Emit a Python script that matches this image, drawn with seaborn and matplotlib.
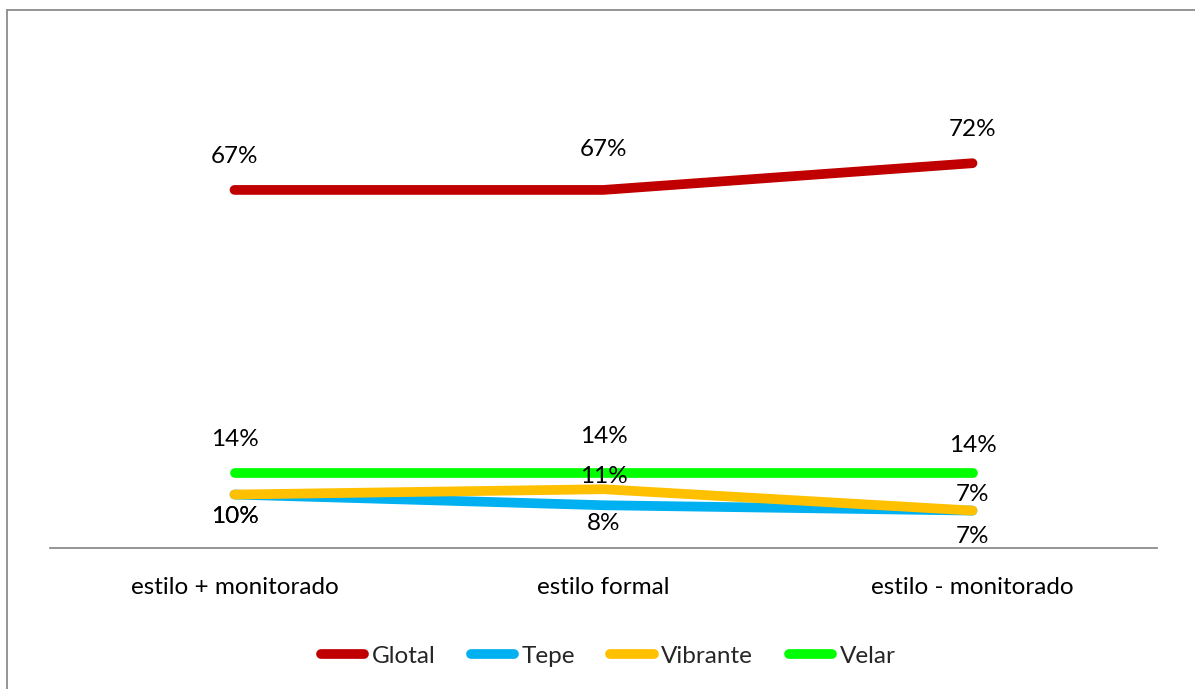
import matplotlib
matplotlib.use("Agg")
import matplotlib.pyplot as plt
from matplotlib.lines import Line2D
import seaborn as sns
import pandas as pd

categories = ["estilo + monitorado", "estilo formal", "estilo - monitorado"]
series_names = ["Glotal", "Tepe", "Vibrante", "Velar"]
glotal = [67, 67, 72]
tepe = [10, 8, 7]
vibrante = [10, 11, 7]
velar = [14, 14, 14]
colors = ["#C00000", "#00B0F0", "#FFC000", "#00FF00"]

values = [glotal, tepe, vibrante, velar]
df = pd.DataFrame(
    [(c, i, name, v)
     for name, vals in zip(series_names, values)
     for i, (c, v) in enumerate(zip(categories, vals))],
    columns=["estilo", "pos", "variante", "pct"],
)

sns.set_theme(style="white")
plt.rcParams["font.family"] = ["Lato", "DejaVu Sans"]

FS = 17.5
LW = 7.0
W, H = 1195, 689
fig = plt.figure(figsize=(W / 100, H / 100), dpi=100)
ax = fig.add_axes([50 / W, 1 - 548 / H, (1157 - 50) / W, (548 - 67) / H])

sns.lineplot(
    data=df, x="pos", y="pct", hue="variante", hue_order=series_names,
    palette=colors, linewidth=LW, solid_capstyle="round", legend=False, ax=ax,
)

ax.set_xlim(-0.5, 2.5)
ax.set_ylim(0, 90)
ax.set_xticks(range(len(categories)))
ax.set_xticklabels(categories, fontsize=FS, color="#000000")
ax.tick_params(axis="x", length=0, pad=21)
ax.set_yticks([])
ax.set_xlabel("")
ax.set_ylabel("")
for side in ["top", "right", "left"]:
    ax.spines[side].set_visible(False)
ax.spines["bottom"].set_color("#8C8C8C")
ax.spines["bottom"].set_linewidth(1.3)

# data label placement: vertical offsets in pixels (positive = above the point)
label_dy = {
    "Glotal": [33, 40, 34],
    "Tepe": [-22, -18, -26],
    "Vibrante": [-22, 13, 16],
    "Velar": [34, 37, 28],
}
px2pt = 72 / 100
for name, vals in zip(series_names, values):
    for i, v in enumerate(vals):
        ax.annotate(f"{v}%", (i, v), xytext=(0, label_dy[name][i] * px2pt),
                    textcoords="offset points", ha="center", va="center",
                    fontsize=FS, color="#000000")

handles = [Line2D([0], [0], color=c, linewidth=LW, solid_capstyle="round")
           for c in colors]
fig.legend(handles, series_names, loc="center", bbox_to_anchor=(608 / W, 1 - 656 / H),
           ncol=4, frameon=False, fontsize=FS, handlelength=1.8,
           handletextpad=0.3, columnspacing=1.45)

# outer frame (top and left edges fall inside the canvas)
fig.add_artist(Line2D([7 / W, 1], [1 - 10 / H, 1 - 10 / H], color="#8C8C8C",
                      linewidth=1.3, transform=fig.transFigure))
fig.add_artist(Line2D([7 / W, 7 / W], [0, 1 - 10 / H], color="#8C8C8C",
                      linewidth=1.3, transform=fig.transFigure))

fig.savefig("out.png", dpi=100)
